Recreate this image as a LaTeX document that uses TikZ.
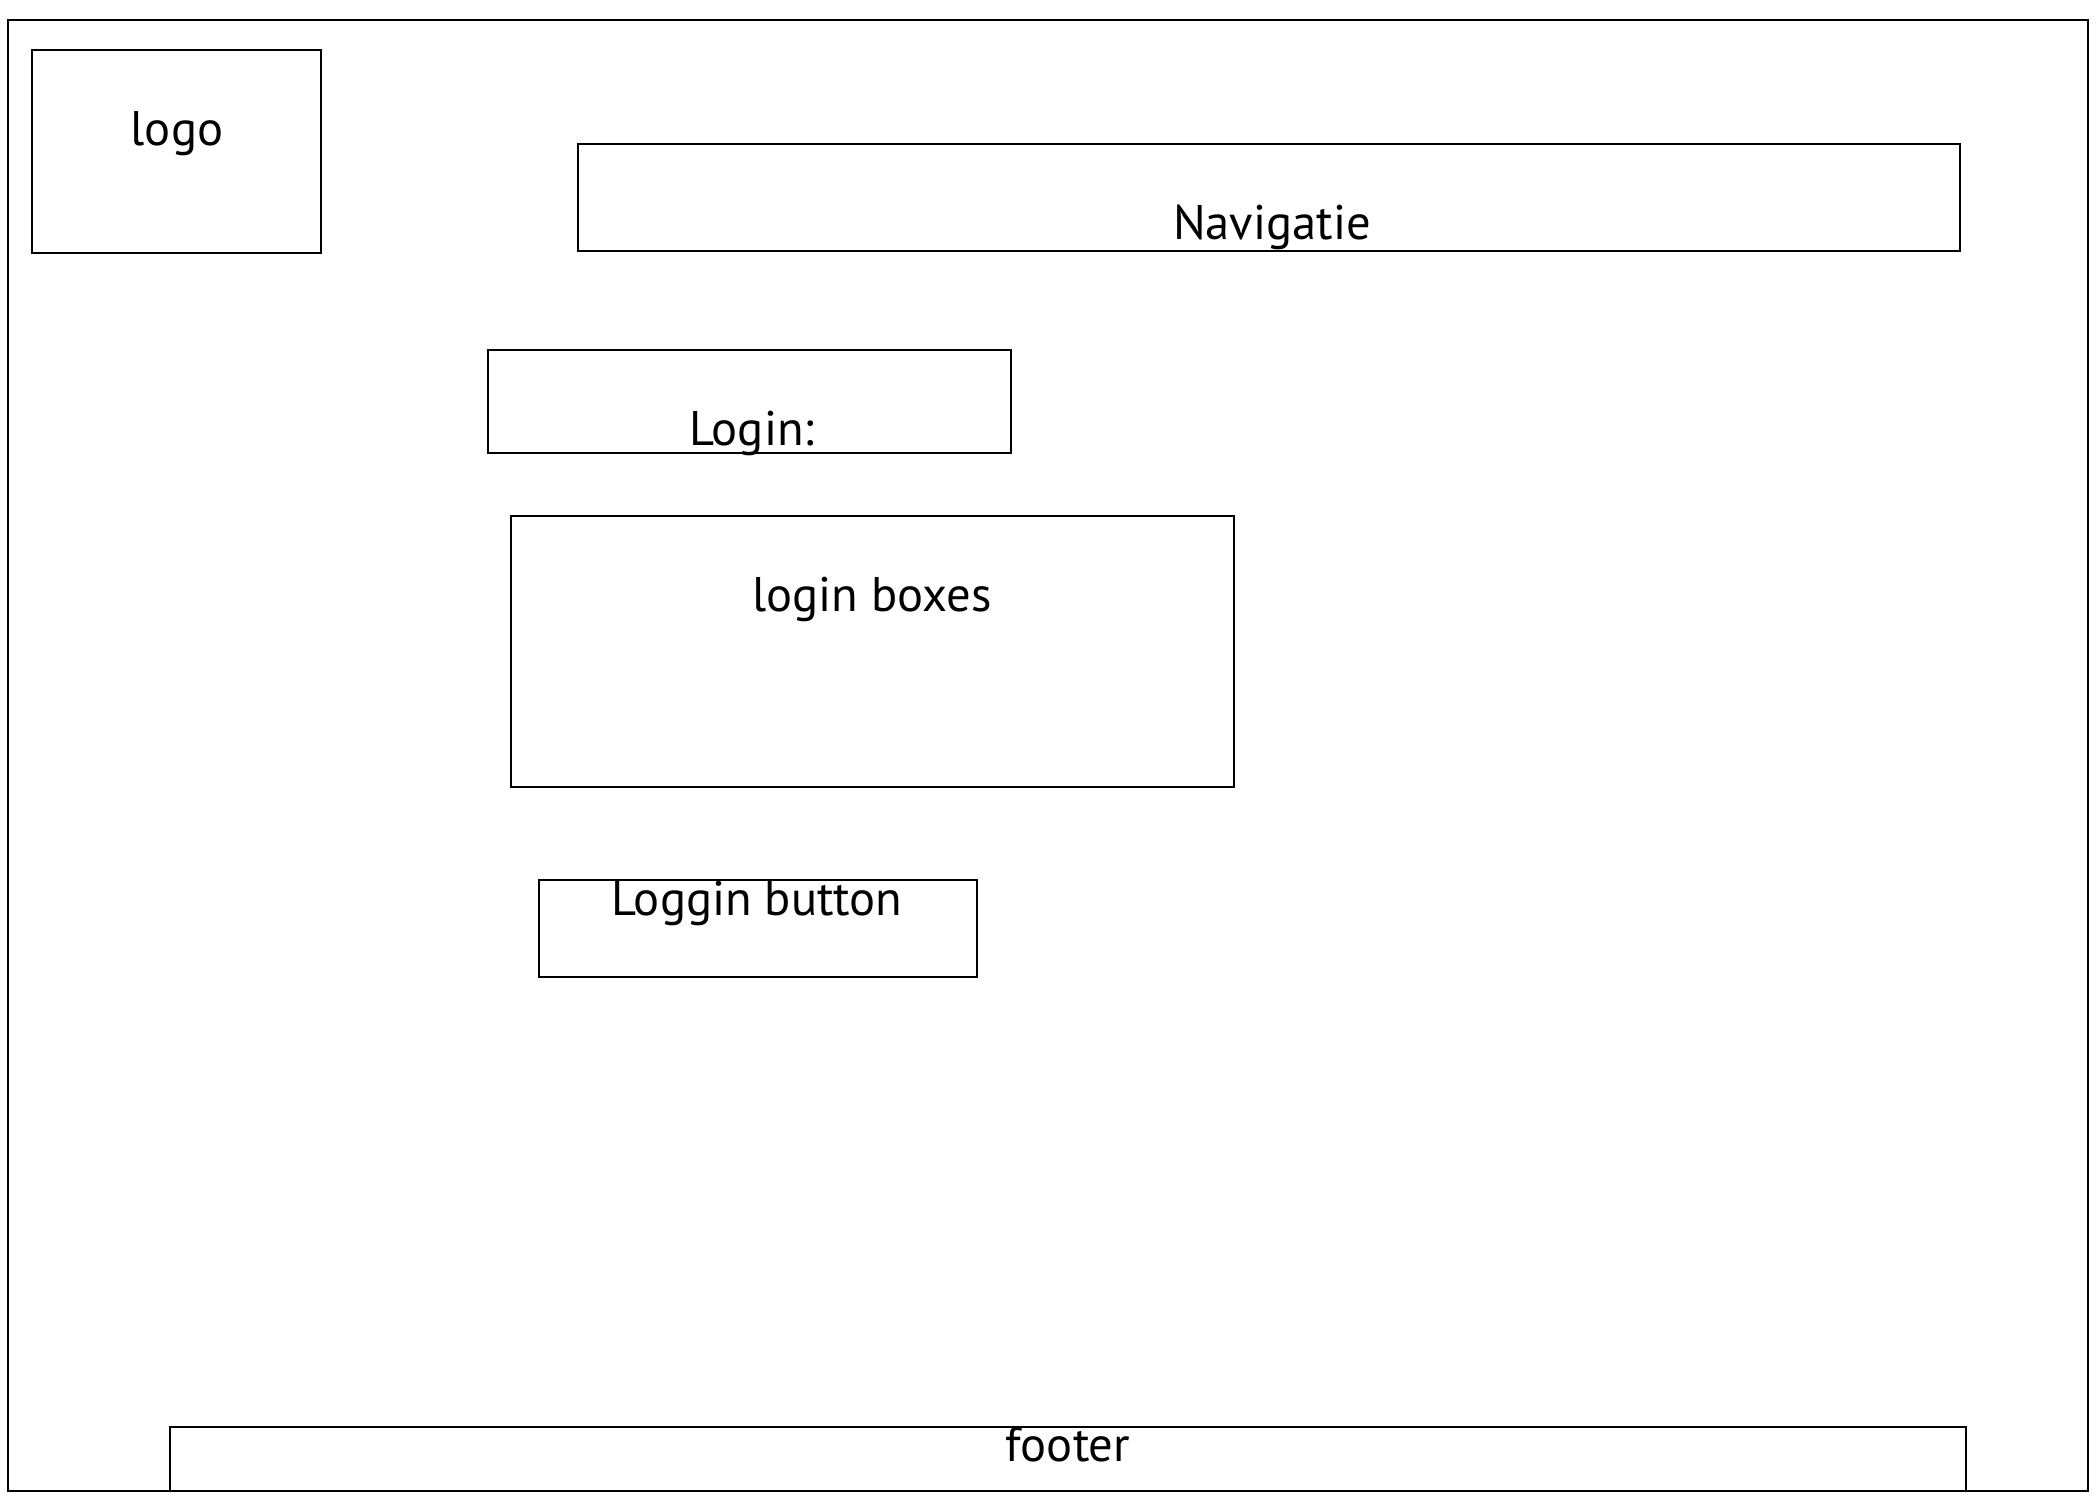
\documentclass[tikz,border=0pt]{standalone}
\usepackage{fontspec}
\setsansfont{PT Sans}
\usetikzlibrary{positioning}

\begin{document}
\begin{tikzpicture}[x=0.5pt,y=-0.5pt,font=\sffamily\fontsize{24.3}{28}\selectfont]
  \tikzstyle{frame}=[draw,line width=0.75pt,inner sep=0pt,outer sep=0pt]
  \tikzstyle{caption}=[anchor=base,inner sep=0pt]
  \useasboundingbox (0,0) rectangle (2100,1500);
  % page and wireframe blocks
  \node[frame,minimum width=1040pt,minimum height=735.5pt] (page) at (1048,755.5) {};
  \node[frame,minimum width=144.5pt,minimum height=101.5pt] (logo) at (176.5,151.5) {};
  \node[frame,minimum width=691pt,minimum height=53.5pt] (nav) at (1269,197.5) {};
  \node[frame,minimum width=261.5pt,minimum height=51.5pt] (login) at (749.5,401.5) {};
  \node[frame,minimum width=361.5pt,minimum height=135.5pt] (loginboxes) at (872.5,651.5) {};
  \node[frame,minimum width=219pt,minimum height=48.5pt] (button) at (758,928.5) {};
  \node[frame,minimum width=898pt,minimum height=32pt] (footer) at (1068,1459) {};
  % texts
  \node[caption] (logotext) at (177,145) {logo};
  \node[caption] (navtext) at (1272,239) {Navigatie};
  \node[caption] (logintext) at (752,445) {Login:};
  \node[caption] (boxestext) at (872,611) {login boxes};
  \node[caption] (buttontext) at (757,915) {Loggin button};
  \node[caption] (footertext) at (1068,1461) {footer};
\end{tikzpicture}
\end{document}
